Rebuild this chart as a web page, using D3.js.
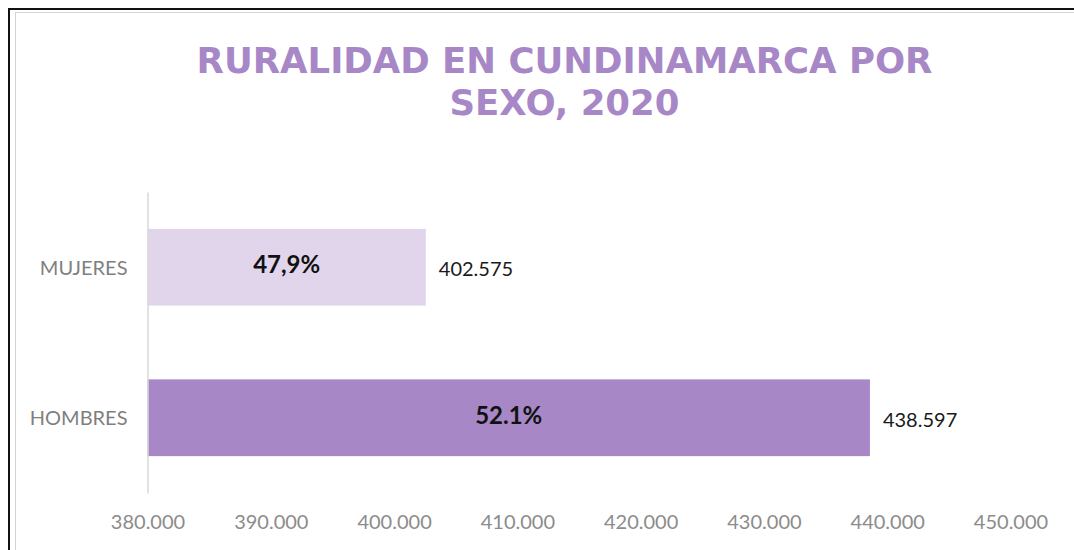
<!DOCTYPE html>
<html>
<head>
<meta charset="utf-8">
<script src="https://cdn.jsdelivr.net/npm/d3@7"></script>
<style>
  html, body { margin: 0; padding: 0; background: #ffffff; }
  svg { display: block; }
</style>
</head>
<body>
<svg id="chart" width="1074" height="550"></svg>
<script>
// ---- data ----
const titleLines = ["RURALIDAD EN CUNDINAMARCA POR", "SEXO, 2020"];
const categories = ["MUJERES", "HOMBRES"];
const values = [402575, 438597];
const shareLabels = ["47,9%", "52.1%"];
const barColors = ["#e1d5eb", "#a787c6"];
const xTicks = [380000, 390000, 400000, 410000, 420000, 430000, 440000, 450000];
const xDomain = [380000, 450000];

// ---- setup ----
const svg = d3.select("#chart");
const W = 1074, H = 550;

// frame (outer black line + inner light gray line)
svg.append("rect").attr("x", 9).attr("y", 9).attr("width", W + 20).attr("height", H + 20)
  .attr("fill", "none").attr("stroke", "#111").attr("stroke-width", 2);
svg.append("rect").attr("x", 15.5).attr("y", 12.5).attr("width", W + 20).attr("height", H + 20)
  .attr("fill", "none").attr("stroke", "#d4d4d4").attr("stroke-width", 1);

// title
const title = svg.append("text")
  .attr("text-anchor", "middle")
  .attr("font-family", "'DejaVu Sans', Verdana, sans-serif")
  .attr("font-weight", "bold")
  .attr("font-size", 35.5)
  .attr("fill", "#a787c6");
title.selectAll("tspan").data(titleLines).join("tspan")
  .attr("x", 564.5)
  .attr("y", (d, i) => i === 0 ? 73 : 114.7)
  .text(d => d);

// scales
const x = d3.scaleLinear().domain(xDomain).range([147.5, 1010.5]);
const y = d3.scaleBand().domain(categories).range([192, 493])
  .paddingInner(0.49).paddingOuter(0.245);

const locale = d3.formatLocale({ decimal: ",", thousands: ".", grouping: [3], currency: ["$", ""] });
const fmt = locale.format(",");

// bars
const rows = categories.map((c, i) => ({ c, v: values[i], p: shareLabels[i], col: barColors[i] }));
svg.append("g").selectAll("rect").data(rows).join("rect")
  .attr("x", x(xDomain[0]))
  .attr("y", d => y(d.c))
  .attr("width", d => x(d.v) - x(xDomain[0]))
  .attr("height", y.bandwidth())
  .attr("fill", d => d.col);

// x axis (labels only)
const xAxis = svg.append("g")
  .attr("transform", "translate(0,493)")
  .call(d3.axisBottom(x).tickValues(xTicks).tickFormat(fmt).tickSize(0).tickPadding(21.8));
xAxis.select(".domain").remove();
xAxis.selectAll("text")
  .attr("font-family", "Lato, 'Open Sans', sans-serif")
  .attr("font-size", 20)
  .attr("fill", "#8c8c8c");

// y axis
const yAxis = svg.append("g")
  .attr("transform", "translate(147.5,0)")
  .call(d3.axisLeft(y).tickSize(0).tickSizeOuter(0).tickPadding(20));
yAxis.select(".domain").attr("stroke", "#d9d9d9").attr("stroke-width", 1.5);
yAxis.selectAll("text")
  .attr("font-family", "Lato, 'Open Sans', sans-serif")
  .attr("font-size", 20)
  .attr("fill", "#7f7f7f")
  .attr("dy", "0.38em");

// value labels
svg.append("g").selectAll("text").data(rows).join("text")
  .attr("x", d => x(d.v) + 13)
  .attr("y", d => y(d.c) + y.bandwidth() / 2)
  .attr("dy", "0.45em")
  .attr("font-family", "Lato, 'Open Sans', sans-serif")
  .attr("font-size", 20)
  .attr("fill", "#1a1a1a")
  .text(d => fmt(d.v));

// share labels
svg.append("g").selectAll("text").data(rows).join("text")
  .attr("x", d => (x(xDomain[0]) + x(d.v)) / 2)
  .attr("y", d => y(d.c) + y.bandwidth() / 2)
  .attr("dy", "0.24em")
  .attr("text-anchor", "middle")
  .attr("font-family", "Lato, 'Open Sans', sans-serif")
  .attr("font-weight", "bold")
  .attr("font-size", 24)
  .attr("fill", "#111")
  .text(d => d.p);
</script>
</body>
</html>
